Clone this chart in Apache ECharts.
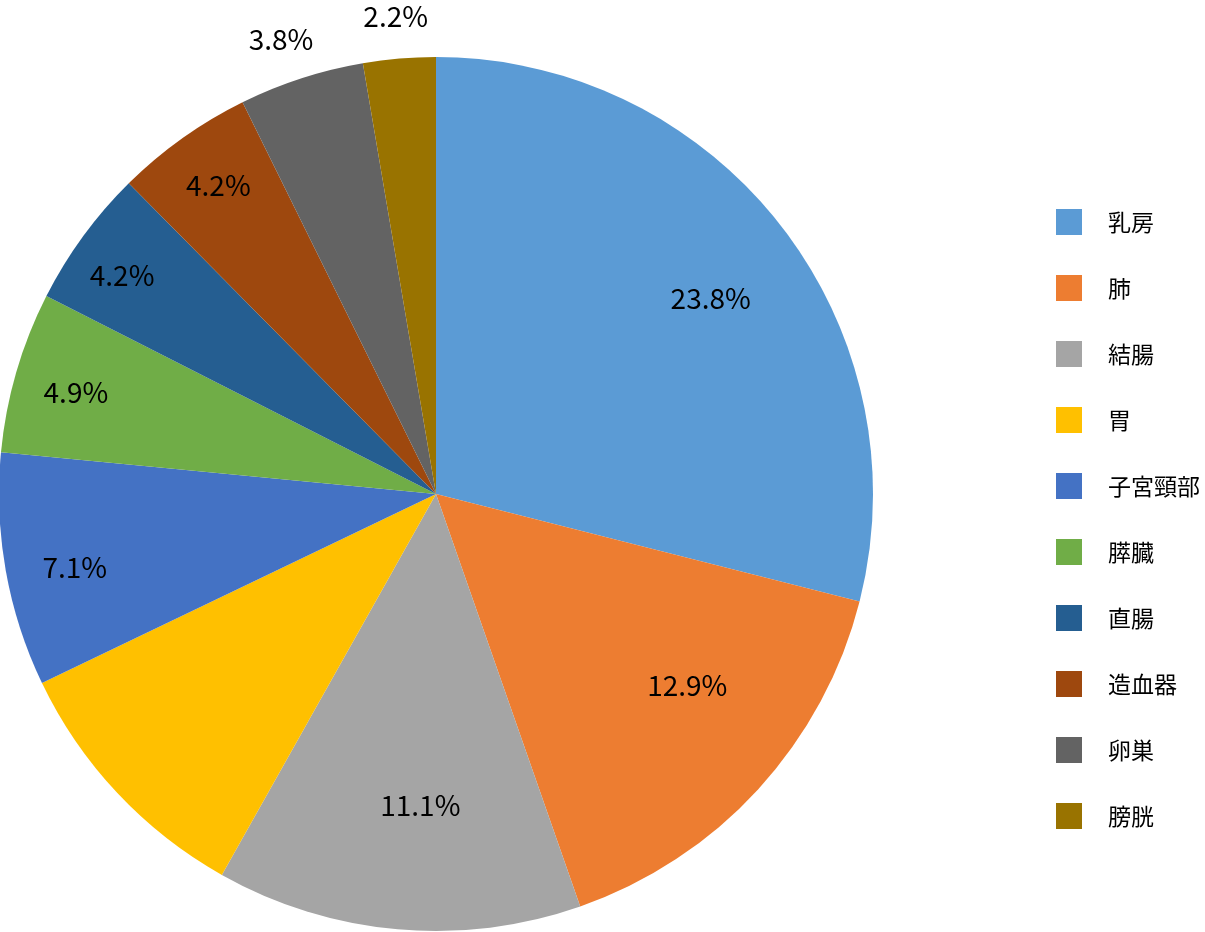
<!DOCTYPE html>
<html>
<head>
<meta charset="utf-8">
<script src="https://cdn.jsdelivr.net/npm/echarts@6/dist/echarts.min.js"></script>
<style>html,body{margin:0;padding:0;background:#fff}#c{width:1205px;height:932px}</style>
</head>
<body>
<div id="c"></div>
<script>
const categories = ['乳房','肺','結腸','胃','子宮頸部','膵臓','直腸','造血器','卵巣','膀胱'];
const values = [23.8, 12.9, 11.1, 8.0, 7.1, 4.9, 4.2, 4.2, 3.8, 2.2];
const colors = ['#5B9BD5','#ED7D31','#A5A5A5','#FFC000','#4472C4','#70AD47','#255E91','#9E480E','#636363','#997300'];
// label ring radius per slice (0 = no label shown)
const labelRing = [340, 312, 312, 0, 372, 372, 372, 372, 477, 477];
// small nudges (px) of each label from its ring position
const labelNudge = [[4,15],[19,-21],[12,-2],[0,0],[8,8],[0,3],[-11,2],[0,-3],[-7,2],[0,1]];

const center = [436, 494];
const R = 437;
const labelFont = {fontFamily: 'Noto Sans CJK JP', fontSize: 28, color: '#000'};

function labelSeries(idx) {
  const r = labelRing[idx], d = labelNudge[idx];
  return {
    type: 'pie', center: [center[0] + d[0], center[1] + d[1]], radius: [r - 20, r + 20],
    startAngle: 90, clockwise: true,
    silent: true, animation: false,
    itemStyle: {color: 'rgba(0,0,0,0)'},
    emphasis: {disabled: true},
    label: Object.assign({position: 'inside', formatter: '{c}%'}, labelFont),
    labelLine: {show: false},
    data: categories.map((n, i) => ({name: n, value: values[i], label: {show: i === idx}}))
  };
}

const series = [{
  type: 'pie', center: center, radius: [0, R], startAngle: 90, clockwise: true,
  animation: false, label: {show: false}, labelLine: {show: false},
  itemStyle: {borderWidth: 0},
  data: categories.map((n, i) => ({name: n, value: values[i]}))
}];
labelRing.forEach((r, i) => { if (r > 0) series.push(labelSeries(i)); });

const chart = echarts.init(document.getElementById('c'));
chart.setOption({
  animation: false,
  color: colors,
  legend: {
    orient: 'vertical', left: 1051, top: 204,
    itemWidth: 26, itemHeight: 26, itemGap: 40,
    icon: 'rect',
    data: categories,
    textStyle: {fontFamily: 'Noto Sans CJK JP', fontSize: 23, color: '#000', padding: [0,0,0,21]}
  },
  series: series
});
</script>
</body>
</html>
